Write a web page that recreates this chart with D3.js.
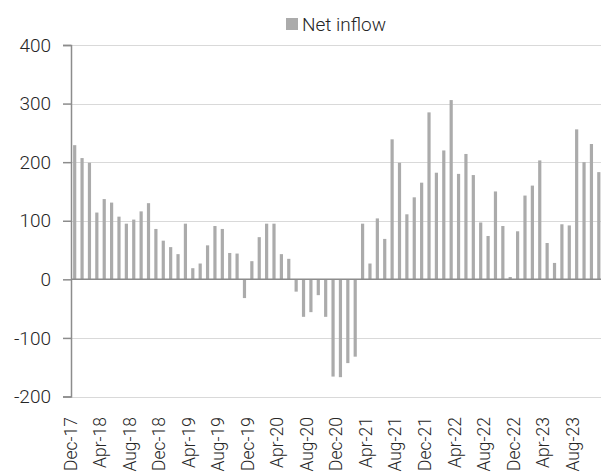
<!DOCTYPE html>
<html>
<head>
<meta charset="utf-8">
<script src="https://cdn.jsdelivr.net/npm/d3@7/dist/d3.min.js"></script>
<style>
  html, body { margin: 0; padding: 0; background: #fff; }
  svg { display: block; }
  text { font-family: Roboto, "Noto Sans", sans-serif; font-weight: 300; fill: #262626; }
</style>
</head>
<body>
<svg id="chart" width="601" height="472"></svg>
<script>
// Monthly net inflow, Dec-17 through Nov-23
const months = [
  "Dec-17","Jan-18","Feb-18","Mar-18","Apr-18","May-18","Jun-18","Jul-18","Aug-18","Sep-18","Oct-18","Nov-18",
  "Dec-18","Jan-19","Feb-19","Mar-19","Apr-19","May-19","Jun-19","Jul-19","Aug-19","Sep-19","Oct-19","Nov-19",
  "Dec-19","Jan-20","Feb-20","Mar-20","Apr-20","May-20","Jun-20","Jul-20","Aug-20","Sep-20","Oct-20","Nov-20",
  "Dec-20","Jan-21","Feb-21","Mar-21","Apr-21","May-21","Jun-21","Jul-21","Aug-21","Sep-21","Oct-21","Nov-21",
  "Dec-21","Jan-22","Feb-22","Mar-22","Apr-22","May-22","Jun-22","Jul-22","Aug-22","Sep-22","Oct-22","Nov-22",
  "Dec-22","Jan-23","Feb-23","Mar-23","Apr-23","May-23","Jun-23","Jul-23","Aug-23","Sep-23","Oct-23","Nov-23"
];
const netInflow = [
  229, 207, 199, 114, 137, 131, 107, 95, 102, 116, 130, 86,
  66, 55, 43, 95, 19, 27, 58, 91, 86, 45, 44, -32,
  31, 72, 95, 95, 43, 35, -21, -64, -56, -27, -64, -166,
  -167, -143, -132, 95, 27, 104, 69, 239, 199, 111, 140, 165,
  285, 182, 220, 306, 180, 214, 178, 97, 74, 150, 91, 4,
  82, 143, 160, 203, 62, 28, 94, 92, 256, 200, 231, 183
];
const yTicks = [-200, -100, 0, 100, 200, 300, 400];
const seriesName = "Net inflow";

const svg = d3.select("#chart");
const plot = { left: 71, right: 602.5, top: 45, bottom: 396.5 };

const x = d3.scaleBand().domain(months).range([plot.left, plot.right]).paddingInner(0.6).paddingOuter(0.3);
const y = d3.scaleLinear().domain([-200, 400]).range([plot.bottom, plot.top]);

// horizontal gridlines
svg.append("g")
  .selectAll("line")
  .data(yTicks.filter(d => d !== 0))
  .join("line")
  .attr("x1", plot.left).attr("x2", 601)
  .attr("y1", d => Math.round(y(d)) + 0.5).attr("y2", d => Math.round(y(d)) + 0.5)
  .attr("stroke", "#d9d9d9").attr("stroke-width", 1.2);

// bars
svg.append("g")
  .selectAll("rect")
  .data(netInflow)
  .join("rect")
  .attr("x", (d, i) => x(months[i]) + x.bandwidth() / 2 - 1.6)
  .attr("width", 3.2)
  .attr("y", d => y(Math.max(0, d)))
  .attr("height", d => Math.abs(y(d) - y(0)))
  .attr("fill", "#ababab");

// zero baseline
svg.append("line")
  .attr("x1", plot.left).attr("x2", 601)
  .attr("y1", y(0)).attr("y2", y(0))
  .attr("stroke", "#8c8c8c").attr("stroke-width", 1.5);

// y axis
const yAxis = d3.axisLeft(y).tickValues(yTicks).tickSize(8).tickPadding(12).tickFormat(d => String(d));
const ya = svg.append("g").attr("transform", `translate(${plot.left},0)`).call(yAxis);
ya.select(".domain").attr("stroke", "#8c8c8c").attr("stroke-width", 1.5);
ya.selectAll(".tick line").attr("stroke", "#8c8c8c").attr("stroke-width", 1.5);
ya.selectAll(".tick text")
  .attr("font-family", "Roboto, 'Noto Sans', sans-serif")
  .attr("font-weight", 300)
  .attr("font-size", 19).attr("fill", "#262626");

// x category labels, every fourth month, rotated
const labelMonths = months.filter((m, i) => i % 4 === 0);
svg.append("g")
  .selectAll("text")
  .data(labelMonths)
  .join("text")
  .attr("transform", d => `translate(${x(d) + x.bandwidth() / 2 + 2},417) rotate(-90)`)
  .attr("text-anchor", "end")
  .attr("font-size", 17.5)
  .text(d => d);

// legend
const legend = svg.append("g").attr("transform", "translate(286,18)");
legend.append("rect").attr("width", 12).attr("height", 12).attr("fill", "#ababab");
legend.append("text").attr("x", 16).attr("y", 12.5).attr("font-size", 19).text(seriesName);
</script>
</body>
</html>
